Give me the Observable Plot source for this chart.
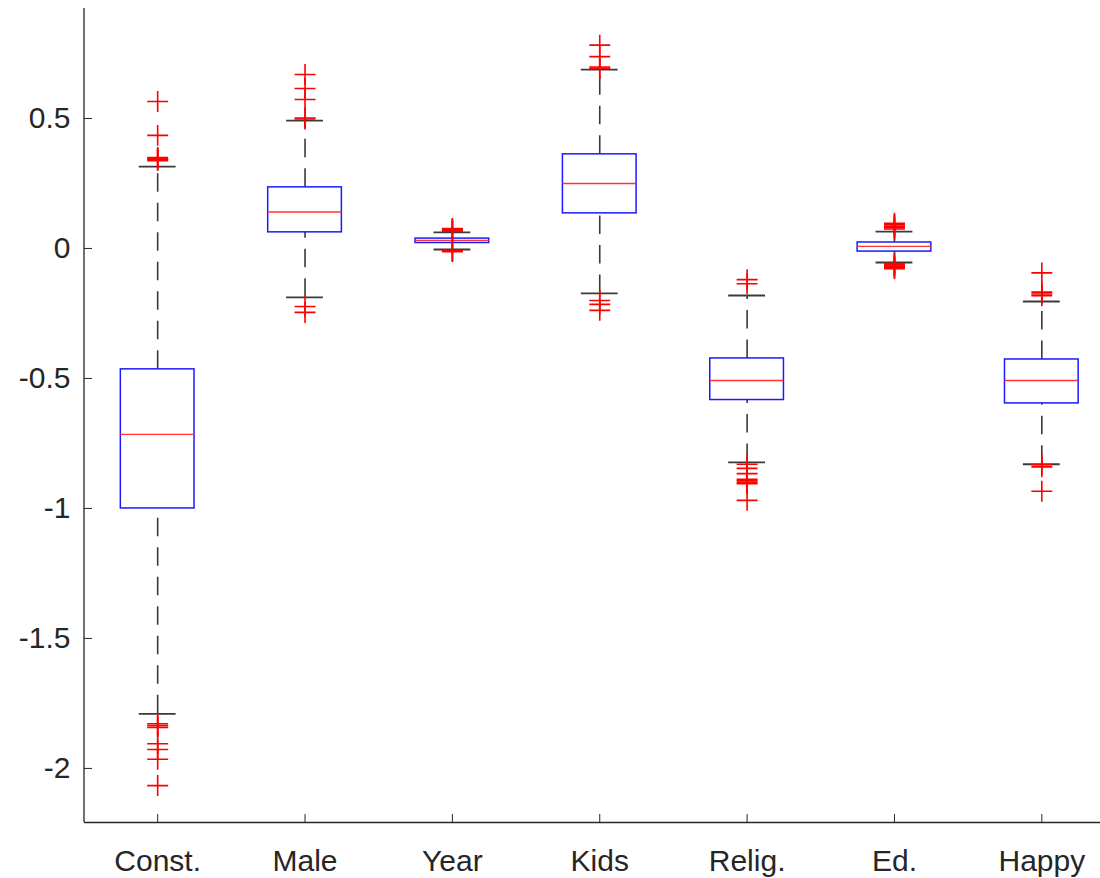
<!DOCTYPE html>
<html><head><meta charset="utf-8">
<script src="https://cdn.jsdelivr.net/npm/d3@7"></script>
<script src="https://cdn.jsdelivr.net/npm/@observablehq/plot@0.6"></script>
<style>html,body{margin:0;padding:0;background:#fff;overflow:hidden}</style>
</head><body><div id="chart"></div>
<script>
const categories = ["Const.", "Male", "Year", "Kids", "Relig.", "Ed.", "Happy"];
const q1 = [-1.0, 0.062, 0.021, 0.135, -0.583, -0.012, -0.596];
const median = [-0.715, 0.14, 0.031, 0.25, -0.508, 0.008, -0.508];
const q3 = [-0.465, 0.235, 0.038, 0.362, -0.423, 0.023, -0.427];
const lowerWhisker = [-1.79, -0.188, -0.004, -0.173, -0.823, -0.054, -0.83];
const upperWhisker = [0.315, 0.492, 0.062, 0.688, -0.181, 0.065, -0.204];
const outliers = [
  [0.338, 0.342, 0.346, 0.35, 0.435, 0.565, -1.828, -1.835, -1.842, -1.905, -1.927, -1.965, -2.066],
  [0.498, 0.502, 0.573, 0.615, 0.669, -0.223, -0.246],
  [0.066, 0.07, 0.073, 0.077, -0.008, -0.01, -0.012],
  [0.693, 0.698, 0.738, 0.782, -0.2, -0.215, -0.238],
  [-0.12, -0.136, -0.83, -0.846, -0.866, -0.888, -0.894, -0.9, -0.905, -0.969],
  [0.075, 0.08, 0.086, 0.092, 0.097, -0.058, -0.063, -0.068, -0.073, -0.078],
  [-0.094, -0.168, -0.175, -0.182, -0.832, -0.84, -0.934]
];
const yTicks = [-2, -1.5, -1, -0.5, 0, 0.5];
const yTickLabels = ["-2", "-1.5", "-1", "-0.5", "0", "0.5"];
const yDomain = [-2.208, 0.923];

const boxes = categories.map((c, i) => ({
  c, pos: i + 1, q1: q1[i], med: median[i], q3: q3[i], lo: lowerWhisker[i], hi: upperWhisker[i]
}));
const outlierRows = outliers.flatMap((arr, i) => arr.map(v => ({pos: i + 1, v})));

const halfBox = 0.25, halfCap = 0.125;
const axisColor = "#262626";
const whiskerColor = "#3a3a3a";
const dash = "18.5,11";
const font = "'Liberation Sans', Arial, Helvetica, sans-serif";

const chart = Plot.plot({
  width: 1100,
  height: 878,
  marginLeft: 84,
  marginRight: 0,
  marginTop: 8,
  marginBottom: 56,
  style: {fontFamily: font, fontSize: "30px", color: axisColor, background: "#fff", overflow: "hidden"},
  x: {domain: [0.5, 7.5], range: [83.5, 1115], label: null},
  y: {domain: yDomain, label: null},
  marks: [
    // whiskers
    Plot.ruleX(boxes, {x: "pos", y1: "lo", y2: "q1", stroke: whiskerColor, strokeWidth: 1.6, strokeDasharray: dash}),
    Plot.ruleX(boxes, {x: "pos", y1: "q3", y2: "hi", stroke: whiskerColor, strokeWidth: 1.6, strokeDasharray: dash}),
    // caps
    Plot.ruleY(boxes, {y: "lo", x1: d => d.pos - halfCap, x2: d => d.pos + halfCap, stroke: whiskerColor, strokeWidth: 1.8}),
    Plot.ruleY(boxes, {y: "hi", x1: d => d.pos - halfCap, x2: d => d.pos + halfCap, stroke: whiskerColor, strokeWidth: 1.8}),
    // boxes
    Plot.rect(boxes, {x1: d => d.pos - halfBox, x2: d => d.pos + halfBox, y1: "q1", y2: "q3", fill: "none", stroke: "#1a1aff", strokeWidth: 1.5}),
    // medians
    Plot.ruleY(boxes, {y: "med", x1: d => d.pos - halfBox, x2: d => d.pos + halfBox, stroke: "#ff3333", strokeWidth: 1.4}),
    // outliers
    Plot.dot(outlierRows, {x: "pos", y: "v", symbol: "plus", r: 6.8, stroke: "#ff0000", strokeWidth: 1.6, fill: "none"}),
    // axis lines
    Plot.ruleX([0.5], {stroke: axisColor, strokeWidth: 1.3}),
    Plot.ruleY([yDomain[0]], {stroke: axisColor, strokeWidth: 1.3}),
    Plot.axisY({ticks: yTicks, tickFormat: d => yTickLabels[yTicks.indexOf(d)], tickSize: 8, dx: 8, tickPadding: 14, stroke: axisColor, fill: axisColor, fontSize: 30, label: null}),
    Plot.axisX({ticks: [1, 2, 3, 4, 5, 6, 7], tickFormat: d => categories[d - 1], tickSize: 8, dy: -8, tickPadding: 27, stroke: axisColor, fill: axisColor, fontSize: 30, label: null})
  ]
});
document.getElementById("chart").appendChild(chart);
</script>
</body></html>
